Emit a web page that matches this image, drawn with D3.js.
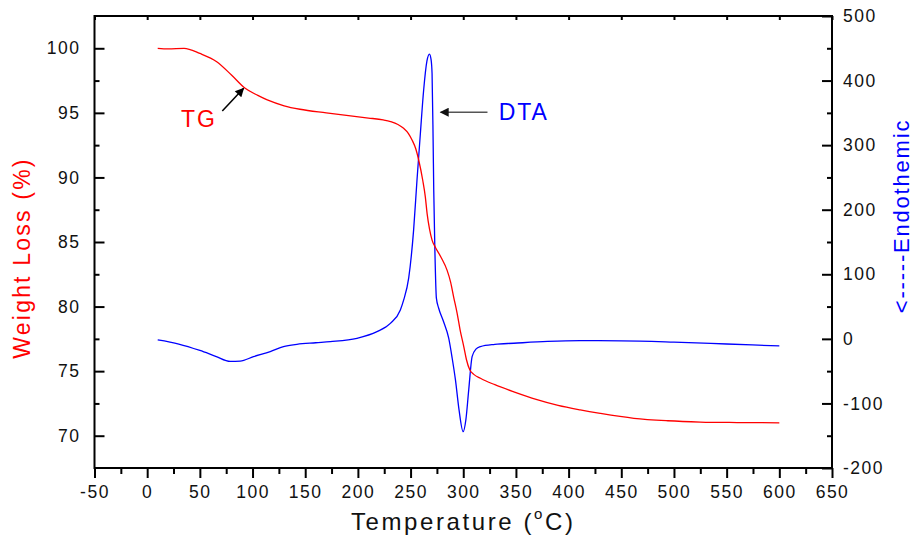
<!DOCTYPE html>
<html>
<head>
<meta charset="utf-8">
<script src="https://cdn.jsdelivr.net/npm/d3@7"></script>
<style>
  body { margin: 0; background: #fff; }
  svg text { font-family: 'Liberation Sans', Arial, sans-serif; }
</style>
</head>
<body>
<div id="chart"></div>
<script>
// TG curve: temperature (°C) vs weight (%)
const tgTemp = [10, 20, 35, 50, 66, 80, 93, 105, 114, 130, 145, 170, 193, 210, 224, 231, 238, 243.4, 248, 251.4, 255, 257.7, 261.5, 264, 265.7, 268, 270.4, 273.5, 279, 284.7, 288, 291, 294.2, 297, 300.5, 303, 306.2, 310, 316.3, 330, 348, 370, 390, 411, 430, 462, 494, 525, 560, 600]
const tgWeight = [100.0, 99.95, 100.0, 99.6, 98.96, 97.93, 96.9, 96.35, 96.0, 95.55, 95.28, 95.0, 94.76, 94.6, 94.45, 94.32, 94.1, 93.8, 93.4, 92.9, 92.2, 91.35, 89.8, 88.5, 87.2, 86.0, 85.15, 84.6, 83.8, 82.8, 81.9, 80.7, 79.48, 78.2, 76.9, 75.9, 75.1, 74.75, 74.45, 73.95, 73.4, 72.8, 72.35, 72.0, 71.73, 71.35, 71.16, 71.06, 71.02, 71.0]

// DTA curve: temperature (°C) vs signal
const dtaTemp = [10, 30, 50, 65, 78.8, 88.3, 100.9, 116.8, 129.4, 142.1, 160, 173.8, 199.1, 218.1, 230.8, 240.3, 243.4, 248.2, 252.9, 256.1, 259.3, 262.4, 265.5, 267.9, 269.5, 270.4, 271.4, 272, 273, 274.5, 276.7, 281, 286.2, 289.5, 292.6, 296, 299.9, 302.5, 305.2, 308.4, 312, 316.3, 330, 348, 380, 411, 450, 500, 550, 600]
const dtaValue = [-1.7, -8, -18, -27, -35, -34.5, -27.5, -19.8, -12, -8.4, -6, -4.3, 0.9, 11.2, 24, 44.8, 60, 94, 168.7, 246, 318, 385, 430, 441, 432, 411, 308, 230, 143, 63, 47.4, 28, 1, -30, -63.6, -110, -143.7, -125, -79, -27.5, -16, -12, -8.5, -6.8, -4, -2.8, -3, -5, -8, -11]

const xTicks = d3.range(-50, 651, 50)
const leftTicks = [70, 75, 80, 85, 90, 95, 100]
const rightTicks = [-200, -100, 0, 100, 200, 300, 400, 500]

const width = 914
const height = 542
const margin = { top: 16, right: 82, bottom: 74, left: 94.5 }

const svg = d3.select('#chart').append('svg')
  .attr('width', width)
  .attr('height', height)

const x = d3.scaleLinear().domain([-50, 650]).range([margin.left, width - margin.right])
const yL = d3.scaleLinear().domain([67.5, 102.5]).range([height - margin.bottom, margin.top])
const yR = d3.scaleLinear().domain([-200, 500]).range([height - margin.bottom, margin.top])

const x0 = margin.left, x1 = width - margin.right
const y0 = height - margin.bottom, y1 = margin.top

// plain hyphen for negatives, like the original
const fmt = (d) => String(d)

function styleAxis(g) {
  g.selectAll('.domain').remove()
  g.selectAll('.tick line').attr('stroke', '#000').attr('stroke-width', 2)
  g.selectAll('text')
    .attr('fill', '#111')
    .style('font-size', '17.5px')
    .style('letter-spacing', '1.5px')
}

// minor ticks
const minorX = d3.range(-25, 650, 50)
const minorL = [72.5, 77.5, 82.5, 87.5, 92.5, 97.5]
const minorR = [-150, -50, 50, 150, 250, 350, 450]

svg.append('g')
  .attr('transform', `translate(0,${y0})`)
  .call(d3.axisBottom(x).tickValues(xTicks).tickSize(10).tickPadding(8).tickFormat(fmt))
  .call(styleAxis)
svg.append('g')
  .attr('transform', `translate(0,${y0})`)
  .call(d3.axisBottom(x).tickValues(minorX).tickSize(6).tickFormat(''))
  .call(styleAxis)

svg.append('g')
  .attr('transform', `translate(0,${y1})`)
  .call(d3.axisBottom(x).tickValues(xTicks).tickSize(4).tickFormat(''))
  .call(styleAxis)

svg.append('g')
  .attr('transform', `translate(${x0},0)`)
  .call(d3.axisRight(yL).tickValues(leftTicks).tickSize(10).tickFormat(''))
  .call(styleAxis)
svg.append('g')
  .attr('transform', `translate(${x0},0)`)
  .call(d3.axisRight(yL).tickValues(minorL).tickSize(5).tickFormat(''))
  .call(styleAxis)
svg.append('g')
  .attr('transform', `translate(${x0},0)`)
  .call(d3.axisLeft(yL).tickValues(leftTicks).tickSize(0).tickPadding(14).tickFormat(fmt))
  .call(styleAxis)

svg.append('g')
  .attr('transform', `translate(${x1},0)`)
  .call(d3.axisLeft(yR).tickValues(rightTicks).tickSize(10).tickFormat(''))
  .call(styleAxis)
svg.append('g')
  .attr('transform', `translate(${x1},0)`)
  .call(d3.axisLeft(yR).tickValues(minorR).tickSize(5).tickFormat(''))
  .call(styleAxis)
svg.append('g')
  .attr('transform', `translate(${x1},0)`)
  .call(d3.axisRight(yR).tickValues(rightTicks).tickSize(0).tickPadding(11).tickFormat(fmt))
  .call(styleAxis)

// frame
svg.append('rect')
  .attr('x', x0).attr('y', y1)
  .attr('width', x1 - x0).attr('height', y0 - y1)
  .attr('fill', 'none').attr('stroke', '#000').attr('stroke-width', 2)

// curves
const tgData = tgTemp.map((t, i) => [t, tgWeight[i]])
const dtaData = dtaTemp.map((t, i) => [t, dtaValue[i]])

svg.append('path')
  .datum(dtaData)
  .attr('fill', 'none').attr('stroke', '#0000ff').attr('stroke-width', 1.3)
  .attr('d', d3.line().x((d) => x(d[0])).y((d) => yR(d[1])).curve(d3.curveMonotoneX))

svg.append('path')
  .datum(tgData)
  .attr('fill', 'none').attr('stroke', '#ff0000').attr('stroke-width', 1.3)
  .attr('d', d3.line().x((d) => x(d[0])).y((d) => yL(d[1])).curve(d3.curveMonotoneX))

// arrow heads
const defs = svg.append('defs')
defs.append('marker')
  .attr('id', 'arrowBlack')
  .attr('viewBox', '0 0 10 10').attr('refX', 9).attr('refY', 5)
  .attr('markerWidth', 14).attr('markerHeight', 9).attr('markerUnits', 'userSpaceOnUse')
  .attr('orient', 'auto')
  .append('path').attr('d', 'M0,0L10,5L0,10Z').attr('fill', '#000')
defs.append('marker')
  .attr('id', 'arrowGray')
  .attr('viewBox', '0 0 10 10').attr('refX', 9).attr('refY', 5)
  .attr('markerWidth', 15).attr('markerHeight', 9).attr('markerUnits', 'userSpaceOnUse')
  .attr('orient', 'auto')
  .append('path').attr('d', 'M0,0L10,5L0,10Z').attr('fill', '#111')

// annotations
svg.append('line')
  .attr('x1', x(71.3)).attr('y1', yL(95.15))
  .attr('x2', x(91.5)).attr('y2', yL(96.9))
  .attr('stroke', '#000').attr('stroke-width', 1.5)
  .attr('marker-end', 'url(#arrowBlack)')

svg.append('text')
  .attr('x', 181).attr('y', yL(94.5) + 8)
  .attr('fill', '#ff0000')
  .style('font-size', '23px').style('letter-spacing', '2px')
  .text('TG')

svg.append('line')
  .attr('x1', x(323)).attr('y1', yR(351))
  .attr('x2', x(278.5)).attr('y2', yR(351))
  .attr('stroke', '#555').attr('stroke-width', 1.5)
  .attr('marker-end', 'url(#arrowGray)')

svg.append('text')
  .attr('x', x(333.6)).attr('y', yR(351) + 8)
  .attr('fill', '#0000ff')
  .style('font-size', '23px').style('letter-spacing', '2px')
  .text('DTA')

// axis titles
const xTitle = svg.append('text')
  .attr('x', (x0 + x1) / 2).attr('y', 530)
  .attr('text-anchor', 'middle')
  .attr('fill', '#111')
  .style('font-size', '24px').style('letter-spacing', '2.6px')
xTitle.append('tspan').text('Temperature (')
xTitle.append('tspan').attr('dy', -11).style('font-size', '15px').text('o')
xTitle.append('tspan').attr('dy', 11).text('C)')

svg.append('text')
  .attr('transform', `translate(30,${(y0 + y1) / 2 + 16}) rotate(-90)`)
  .attr('text-anchor', 'middle')
  .attr('fill', '#ff0000')
  .style('font-size', '23px').style('letter-spacing', '2.2px')
  .text('Weight Loss (%)')

svg.append('text')
  .attr('transform', `translate(909,216) rotate(-90)`)
  .attr('text-anchor', 'middle')
  .attr('fill', '#0000ff')
  .style('font-size', '22px').style('letter-spacing', '1.8px')
  .text('<-----Endothemic')
</script>
</body>
</html>
